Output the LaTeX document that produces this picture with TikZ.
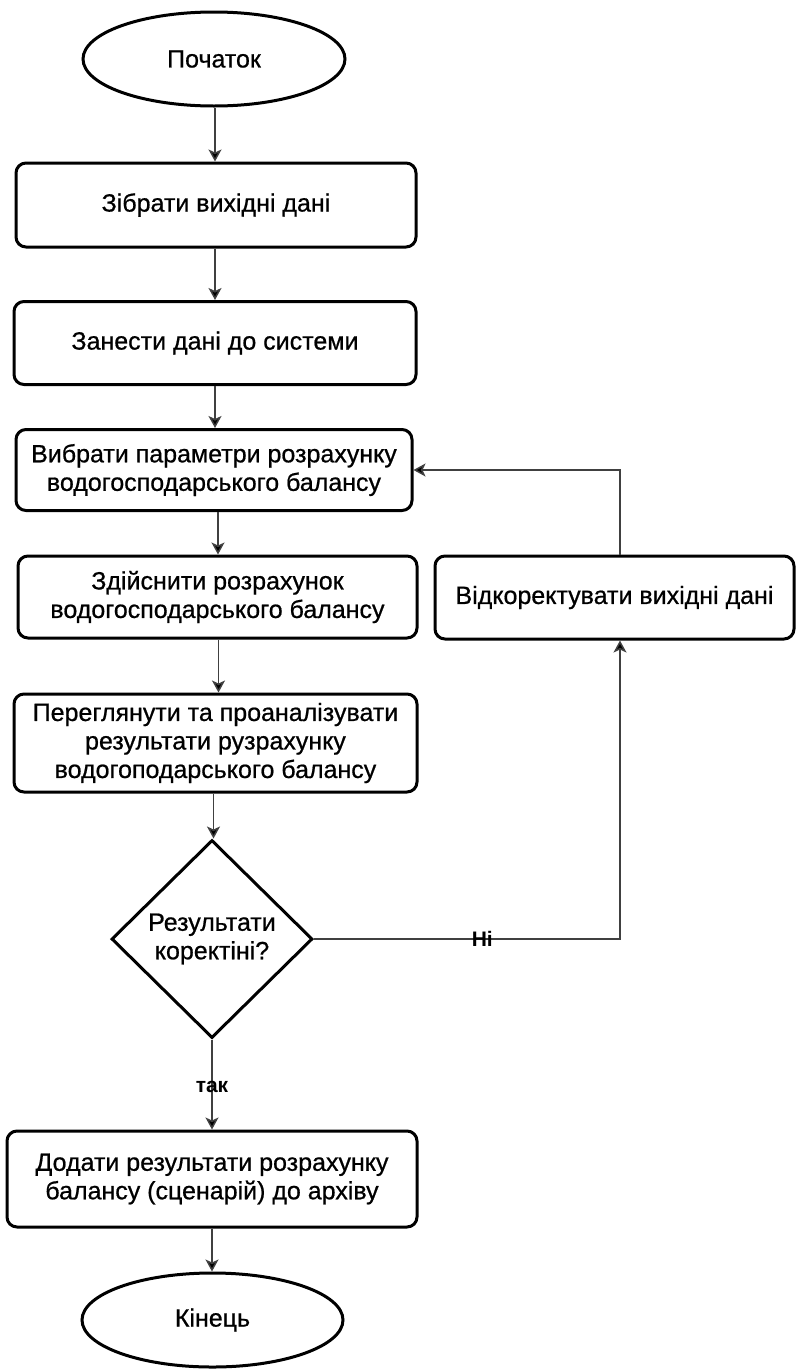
\documentclass[tikz,border=0pt]{standalone}
\usepackage{fontspec}
\setmainfont{Liberation Sans}
\newfontfamily\heavy{Liberation Sans}[FakeBold=0.7]
\usetikzlibrary{shapes.geometric,arrows.meta}
\begin{document}
\begin{tikzpicture}[x=1pt,y=-1pt,
  every node/.style={font=\heavy\fontsize{25}{28.5}\selectfont, align=center, inner sep=0pt},
  procbox/.style={draw=black, line width=3pt, rounded corners=10pt, fill=white},
  term/.style={draw=black, line width=3pt, ellipse, minimum width=262pt, minimum height=94pt},
  decision/.style={draw=black, line width=3pt, diamond, minimum width=201pt, minimum height=198pt},
  arr/.style={draw=black!75, line width=1.5pt, -{Stealth[length=12pt,width=13pt,inset=3pt,fill=black]}},
  lbl/.style={font=\fontsize{21}{24}\selectfont\bfseries}
]
\useasboundingbox (0,0) rectangle (796,1371);
\node[term] (start) at (214,59) {Початок};
\node[procbox, minimum width=400pt, minimum height=84pt] (b1) at (216,205) {Зібрати вихідні дані};
\node[procbox, minimum width=402pt, minimum height=83pt] (b2) at (215,343) {Занести дані до системи};
\node[procbox, minimum width=396pt, minimum height=81pt] (b3) at (214,470) {Вибрати параметри розрахунку\\водогосподарського балансу};
\node[procbox, minimum width=399pt, minimum height=82pt] (b4) at (217.5,597) {Здійснити розрахунок\\водогосподарського балансу};
\node[procbox, minimum width=359pt, minimum height=83pt] (b5) at (614.5,597.5) {Відкоректувати вихідні дані};
\node[procbox, minimum width=403pt, minimum height=98pt] (b6) at (215.5,743) {Переглянути та проаналізувати\\результати рузрахунку\\водогоподарського балансу};
\node[decision] (dia) at (212,939) {Результати\\коректіні?};
\node[procbox, minimum width=410pt, minimum height=96pt] (b7) at (212,1179) {Додати результати розрахунку\\балансу (сценарій) до архіву};
\node[term, minimum width=261pt] (end) at (212.5,1320) {Кінець};

\draw[arr] ([xshift=1pt]start.south) -- ([xshift=1pt]start.south |- b1.north);
\draw[arr] ([xshift=-1pt]b1.south) -- ([xshift=-1pt]b1.south |- b2.north);
\draw[arr] ([xshift=0pt]b2.south) -- ([xshift=0pt]b2.south |- b3.north);
\draw[arr] ([xshift=4pt]b3.south) -- ([xshift=4pt]b3.south |- b4.north);
\draw[arr] ([xshift=1pt]b4.south) -- ([xshift=1pt]b4.south |- b6.north);
\draw[arr] ([xshift=-2pt]b6.south) -- ([xshift=-2pt]b6.south |- dia.north);
\draw[arr] (dia.south) -- node[lbl, pos=0.53] {так} (dia.south |- b7.north);
\draw[arr] (b7.south) -- (b7.south |- end.north);
\draw[arr] (dia.east) -- node[lbl, pos=0.55] {Ні} ([xshift=5.5pt]b5.south |- dia.east) -- ([xshift=5.5pt]b5.south);
\draw[arr] ([xshift=5.5pt]b5.north) |- (b3.east);
\end{tikzpicture}
\end{document}
